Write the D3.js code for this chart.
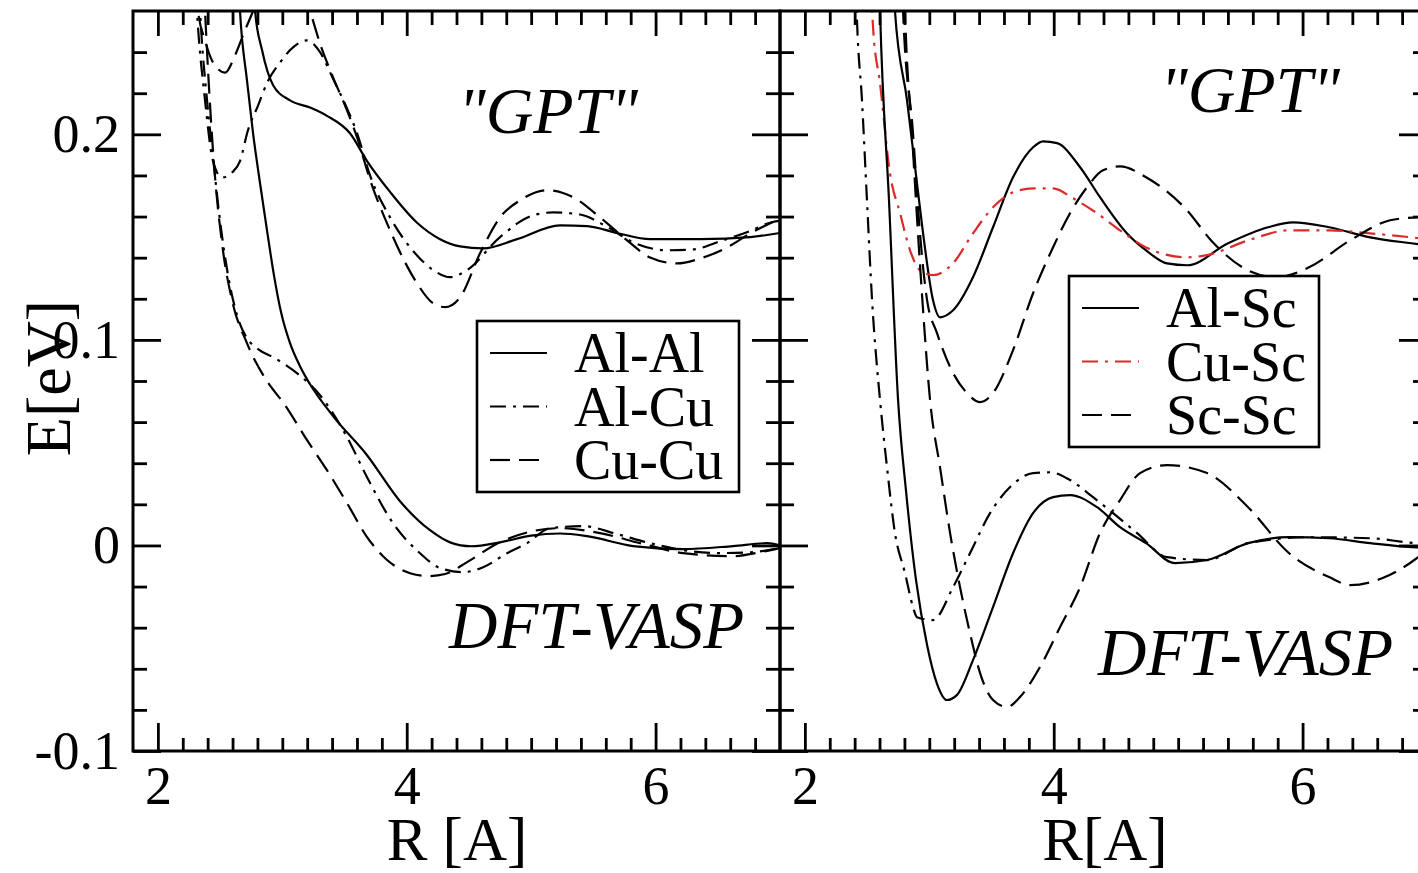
<!DOCTYPE html>
<html>
<head>
<meta charset="utf-8">
<script src="https://cdn.jsdelivr.net/npm/d3@7"></script>
<style>
  body { margin: 0; background: #fff; overflow: hidden; }
  text { font-family: "Liberation Serif", "Times New Roman", serif; fill: #000; }
</style>
</head>
<body>
<script>
// Axis settings
const xDomain = [1.8, 7.0];
const yDomain = [-0.1, 0.26];
const xMajor = [2, 4, 6];
const yMajor = [-0.1, 0, 0.1, 0.2];
const yTickLabels = ["-0.1", "0", "0.1", "0.2"];

// Legend names
const leftNames = ["Al-Al", "Al-Cu", "Cu-Cu"];
const rightNames = ["Al-Sc", "Cu-Sc", "Sc-Sc"];

// Left panel, "GPT" set  [R (A), E (eV)]
const alAlGPT = [[2.74,0.30],[2.781,0.260],[2.837,0.241],[2.925,0.224],[3.062,0.2165],[3.223,0.213],[3.359,0.209],[3.544,0.2005],[3.681,0.187],[3.866,0.172],[4.083,0.157],[4.268,0.149],[4.429,0.1455],[4.614,0.1445],[4.887,0.149],[5.232,0.1557],[5.45,0.1553],[5.691,0.152],[5.956,0.149],[6.358,0.149],[6.76,0.150],[7.0,0.152]];
const alCuGPT = [[2.28,0.30],[2.314,0.26],[2.379,0.2165],[2.443,0.187],[2.515,0.179],[2.596,0.1814],[2.66,0.187],[2.724,0.202],[2.805,0.214],[2.877,0.225],[2.982,0.235],[3.086,0.2423],[3.199,0.2457],[3.303,0.240],[3.408,0.227],[3.52,0.2126],[3.601,0.2005],[3.705,0.180],[3.866,0.1596],[4.083,0.1411],[4.212,0.134],[4.348,0.1305],[4.485,0.134],[4.75,0.150],[5.015,0.1606],[5.176,0.162],[5.393,0.161],[5.61,0.155],[5.819,0.1475],[6.093,0.1436],[6.302,0.144],[6.519,0.148],[6.76,0.153],[6.921,0.157],[7.0,0.158]];
const cuCuGPT = [[2.29,0.30],[2.323,0.26],[2.379,0.2457],[2.443,0.235],[2.54,0.230],[2.62,0.2384],[2.70,0.2506],[2.765,0.26],[2.98,0.30],[3.223,0.26],[3.303,0.2442],[3.408,0.2277],[3.52,0.2117],[3.601,0.1985],[3.705,0.178],[3.866,0.1533],[3.987,0.1377],[4.083,0.1275],[4.212,0.1178],[4.308,0.1159],[4.429,0.1207],[4.589,0.1421],[4.75,0.1596],[4.911,0.1679],[5.136,0.1728],[5.337,0.1694],[5.554,0.1596],[5.771,0.1484],[5.956,0.1401],[6.173,0.1372],[6.358,0.1396],[6.575,0.145],[6.76,0.1518],[6.937,0.1572],[7.0,0.159]];

// Left panel, DFT-VASP set
const alAlDFT = [[2.63,0.30],[2.66,0.26],[2.716,0.2262],[2.765,0.2005],[2.821,0.1762],[2.877,0.1533],[2.933,0.1314],[2.99,0.1134],[3.062,0.0984],[3.142,0.0872],[3.223,0.0784],[3.408,0.0629],[3.681,0.0439],[3.946,0.0215],[4.187,0.0074],[4.348,0.0015],[4.52,-0.0004],[4.75,0.0015],[5.0,0.0048],[5.232,0.0058],[5.45,0.0045],[5.819,-0.0003],[6.221,-0.0018],[6.623,-0.0003],[6.897,0.0011],[7.0,0.000]];
const alCuDFT = [[2.31,0.30],[2.339,0.26],[2.395,0.2165],[2.443,0.1889],[2.499,0.1582],[2.564,0.1314],[2.636,0.112],[2.716,0.1008],[2.797,0.0959],[2.941,0.0911],[3.118,0.0838],[3.303,0.0731],[3.52,0.0527],[3.681,0.0332],[3.89,0.0108],[4.107,-0.0038],[4.268,-0.011],[4.453,-0.013],[4.614,-0.0106],[4.806,-0.0038],[4.967,0.0011],[5.152,0.0084],[5.417,0.0094],[5.691,0.0055],[5.956,0.0011],[6.221,-0.0023],[6.495,-0.0037],[6.76,-0.0033],[7.0,-0.0013]];
const cuCuDFT = [[2.35,0.30],[2.379,0.26],[2.443,0.192],[2.523,0.1436],[2.596,0.1193],[2.716,0.0984],[2.861,0.0814],[3.022,0.0682],[3.199,0.0512],[3.359,0.0366],[3.52,0.0206],[3.681,0.0041],[3.842,-0.0071],[4.027,-0.0135],[4.171,-0.0149],[4.308,-0.0139],[4.485,-0.0081],[4.75,0.0016],[5.015,0.007],[5.232,0.0084],[5.554,0.006],[5.876,0.0011],[6.221,-0.0037],[6.623,-0.0052],[6.84,-0.0033],[7.0,-0.0013]];

// Right panel, "GPT" set
const alScGPT = [[2.70,0.30],[2.724,0.26],[2.821,0.2165],[2.901,0.1762],[2.95,0.1518],[3.03,0.1193],[3.086,0.111],[3.191,0.1144],[3.351,0.1305],[3.512,0.1548],[3.673,0.1791],[3.834,0.1937],[3.914,0.1966],[4.027,0.1957],[4.212,0.184],[4.372,0.1694],[4.589,0.1518],[4.742,0.1436],[4.911,0.1372],[5.072,0.1363],[5.401,0.147],[5.723,0.1548],[5.924,0.1572],[6.213,0.1548],[6.543,0.1499],[6.873,0.147],[7.0,0.146]];
const cuScGPT = [[2.50,0.32],[2.548,0.252],[2.604,0.2248],[2.684,0.181],[2.765,0.1616],[2.845,0.1436],[2.925,0.1339],[3.03,0.1315],[3.191,0.1373],[3.351,0.1518],[3.512,0.1645],[3.673,0.1718],[3.834,0.1737],[3.995,0.1737],[4.155,0.1689],[4.348,0.1616],[4.533,0.1533],[4.742,0.145],[5.072,0.1402],[5.232,0.1412],[5.562,0.1484],[5.892,0.1533],[6.213,0.1533],[6.543,0.1518],[6.873,0.1499],[7.0,0.149]];
const scScGPT = [[2.77,0.32],[2.789,0.26],[2.869,0.2005],[2.925,0.1518],[2.982,0.1193],[3.062,0.1033],[3.167,0.0868],[3.303,0.0741],[3.408,0.0697],[3.512,0.0741],[3.673,0.095],[3.834,0.1227],[3.995,0.1451],[4.131,0.1616],[4.268,0.1743],[4.396,0.1825],[4.533,0.1844],[4.742,0.1791],[5.072,0.163],[5.265,0.1484],[5.562,0.1338],[5.787,0.1305],[6.052,0.1353],[6.382,0.1484],[6.704,0.1582],[6.929,0.1597],[7.0,0.160]];

// Right panel, DFT-VASP set
const alScDFT = [[2.58,0.32],[2.604,0.2604],[2.676,0.1679],[2.749,0.0707],[2.813,0.0264],[2.893,-0.0168],[2.982,-0.0484],[3.062,-0.0673],[3.142,-0.0752],[3.223,-0.0727],[3.351,-0.0558],[3.512,-0.03],[3.673,-0.0038],[3.834,0.0157],[3.995,0.0235],[4.131,0.0245],[4.348,0.0186],[4.533,0.0089],[4.742,0.0011],[4.975,-0.0086],[5.232,-0.0071],[5.562,0.0011],[5.892,0.004],[6.213,0.0035],[6.543,0.0011],[6.873,-0.0008],[7.0,-0.001]];
const cuScDFT = [[2.39,0.32],[2.419,0.2554],[2.459,0.2165],[2.499,0.1679],[2.54,0.1193],[2.604,0.0707],[2.66,0.0381],[2.724,0.006],[2.805,-0.0135],[2.869,-0.030],[2.901,-0.0349],[3.03,-0.0363],[3.191,-0.0203],[3.327,-0.0038],[3.488,0.0157],[3.649,0.0284],[3.834,0.0352],[3.97,0.0356],[4.131,0.0318],[4.316,0.0235],[4.477,0.0157],[4.67,0.006],[4.911,-0.0057],[5.232,-0.0071],[5.562,0.0011],[6.052,0.004],[6.543,0.0035],[6.929,0.0011],[7.0,0.001]];
const scScDFT = [[2.78,0.32],[2.805,0.26],[2.861,0.2005],[2.909,0.1518],[2.95,0.1144],[3.006,0.0707],[3.086,0.0381],[3.167,0.006],[3.247,-0.0203],[3.327,-0.0427],[3.408,-0.0621],[3.512,-0.0752],[3.625,-0.0786],[3.729,-0.0737],[3.89,-0.0591],[4.051,-0.0397],[4.212,-0.0203],[4.372,0.006],[4.533,0.0221],[4.694,0.0352],[4.911,0.0391],[5.232,0.0352],[5.562,0.0186],[5.892,-0.0038],[6.213,-0.0154],[6.382,-0.0193],[6.639,-0.016],[6.929,-0.0057],[7.0,-0.0023]];

// Layout
const W = 1418, H = 873;
const plotTop = 11, plotBottom = 751;
const red = "#dd2b2b";
const dashed = "20,9", dashDot = "16,7,3,7";

const svg = d3.select("body").append("svg")
    .attr("width", W)
    .attr("height", H);

const y = d3.scaleLinear().domain(yDomain).range([plotBottom, plotTop]);

const xMinor = d3.range(10, 35).map(i => i / 5).filter(v => Math.abs(v / 2 - Math.round(v / 2)) > 1e-6);
const yMinor = d3.range(-4, 13).filter(i => i % 5 !== 0).map(i => i / 50);

const line = xs => d3.line()
    .x(d => xs(d[0]))
    .y(d => y(d[1]))
    .curve(d3.curveMonotoneX);

function drawPanel(cfg) {
    const x = d3.scaleLinear().domain(xDomain).range([cfg.x0, cfg.x1]);
    const g = svg.append("g");

    // clip for the curves
    g.append("clipPath").attr("id", cfg.id)
      .append("rect")
        .attr("x", cfg.x0).attr("y", plotTop)
        .attr("width", cfg.x1 - cfg.x0).attr("height", plotBottom - plotTop);

    const curves = g.append("g").attr("clip-path", `url(#${cfg.id})`);
    cfg.series.forEach(s => {
        curves.append("path")
            .datum(s.data)
            .attr("d", line(x))
            .attr("fill", "none")
            .attr("stroke", s.color || "#000")
            .attr("stroke-width", 2.2)
            .attr("stroke-dasharray", s.dash || null);
    });

    // ticks on all four sides, pointing inward
    const tidy = sel => {
        sel.select(".domain").remove();
        sel.selectAll("line").attr("stroke", "#000").attr("stroke-width", 2.8);
    };
    g.append("g").attr("transform", `translate(0,${plotBottom})`)
        .call(d3.axisBottom(x).tickValues(xMinor).tickSize(-13).tickFormat("")).call(tidy);
    const bottomMajor = g.append("g").attr("transform", `translate(0,${plotBottom})`)
        .call(d3.axisBottom(x).tickValues(xMajor).tickSize(-28).tickPadding(15).tickFormat(d3.format("d")))
        .call(tidy);
    bottomMajor.selectAll("text").attr("font-size", 54);

    g.append("g").attr("transform", `translate(0,${plotTop})`)
        .call(d3.axisTop(x).tickValues(xMinor).tickSize(-14).tickFormat("")).call(tidy);
    g.append("g").attr("transform", `translate(0,${plotTop})`)
        .call(d3.axisTop(x).tickValues(xMajor).tickSize(-25).tickFormat("")).call(tidy);

    g.append("g").attr("transform", `translate(${cfg.x0},0)`)
        .call(d3.axisLeft(y).tickValues(yMinor).tickSize(-14).tickFormat("")).call(tidy);
    const leftMajor = g.append("g").attr("transform", `translate(${cfg.x0},0)`)
        .call(d3.axisLeft(y).tickValues(yMajor).tickSize(-28).tickPadding(13)
            .tickFormat((d, i) => cfg.yLabels ? yTickLabels[i] : ""))
        .call(tidy);
    leftMajor.selectAll("text").attr("font-size", 54);

    g.append("g").attr("transform", `translate(${cfg.x1},0)`)
        .call(d3.axisRight(y).tickValues(yMinor).tickSize(-14).tickFormat("")).call(tidy);
    g.append("g").attr("transform", `translate(${cfg.x1},0)`)
        .call(d3.axisRight(y).tickValues(yMajor).tickSize(-28).tickFormat("")).call(tidy);

    // frame
    g.append("rect")
        .attr("x", cfg.x0).attr("y", plotTop)
        .attr("width", cfg.x1 - cfg.x0).attr("height", plotBottom - plotTop)
        .attr("fill", "none").attr("stroke", "#000").attr("stroke-width", 3);

    // x label
    g.append("text")
        .attr("x", cfg.xLabelX).attr("y", 860)
        .attr("text-anchor", "middle")
        .attr("font-size", 61)
        .text(cfg.xLabel);

    // method labels
    g.append("text")
        .attr("x", cfg.gptX).attr("y", cfg.gptY)
        .attr("text-anchor", "middle")
        .attr("font-size", 66).attr("font-style", "italic")
        .text('"GPT"');
    g.append("text")
        .attr("x", cfg.dftX).attr("y", cfg.dftY)
        .attr("text-anchor", "start")
        .attr("font-size", 67).attr("font-style", "italic")
        .text("DFT-VASP");

    // legend
    const lg = cfg.legend;
    g.append("rect")
        .attr("x", lg.x).attr("y", lg.y).attr("width", lg.w).attr("height", lg.h)
        .attr("fill", "#fff").attr("stroke", "#000").attr("stroke-width", 2.6);
    lg.names.forEach((name, i) => {
        const s = cfg.series[i];
        const ly = lg.firstY + i * lg.step;
        g.append("line")
            .attr("x1", lg.x + 13).attr("x2", lg.x + 70)
            .attr("y1", ly).attr("y2", ly)
            .attr("stroke", s.color || "#000")
            .attr("stroke-width", 2.2)
            .attr("stroke-dasharray", s.dash || null);
        g.append("text")
            .attr("x", lg.x + 97).attr("y", ly + 19)
            .attr("font-size", 56)
            .text(name);
    });
}

drawPanel({
    id: "clipLeft", x0: 133, x1: 780, yLabels: true,
    xLabel: "R [A]", xLabelX: 457,
    gptX: 548, gptY: 133, dftX: 449, dftY: 648,
    series: [
        { data: alAlGPT }, { data: alCuGPT, dash: dashDot }, { data: cuCuGPT, dash: dashed },
        { data: alAlDFT }, { data: alCuDFT, dash: dashDot }, { data: cuCuDFT, dash: dashed }
    ],
    legend: { x: 477, y: 321, w: 262, h: 171, firstY: 353, step: 53.5, names: leftNames }
});

drawPanel({
    id: "clipRight", x0: 780, x1: 1427, yLabels: false,
    xLabel: "R[A]", xLabelX: 1105,
    gptX: 1250, gptY: 112, dftX: 1098, dftY: 675,
    series: [
        { data: alScGPT }, { data: cuScGPT, dash: dashDot, color: red }, { data: scScGPT, dash: dashed },
        { data: alScDFT }, { data: cuScDFT, dash: dashDot }, { data: scScDFT, dash: dashed }
    ],
    legend: { x: 1069, y: 276, w: 250, h: 171, firstY: 308, step: 53.5, names: rightNames }
});

// y axis label
svg.append("text")
    .attr("transform", "translate(70,378) rotate(-90)")
    .attr("text-anchor", "middle")
    .attr("font-size", 64)
    .text("E[eV]");
</script>
</body>
</html>
